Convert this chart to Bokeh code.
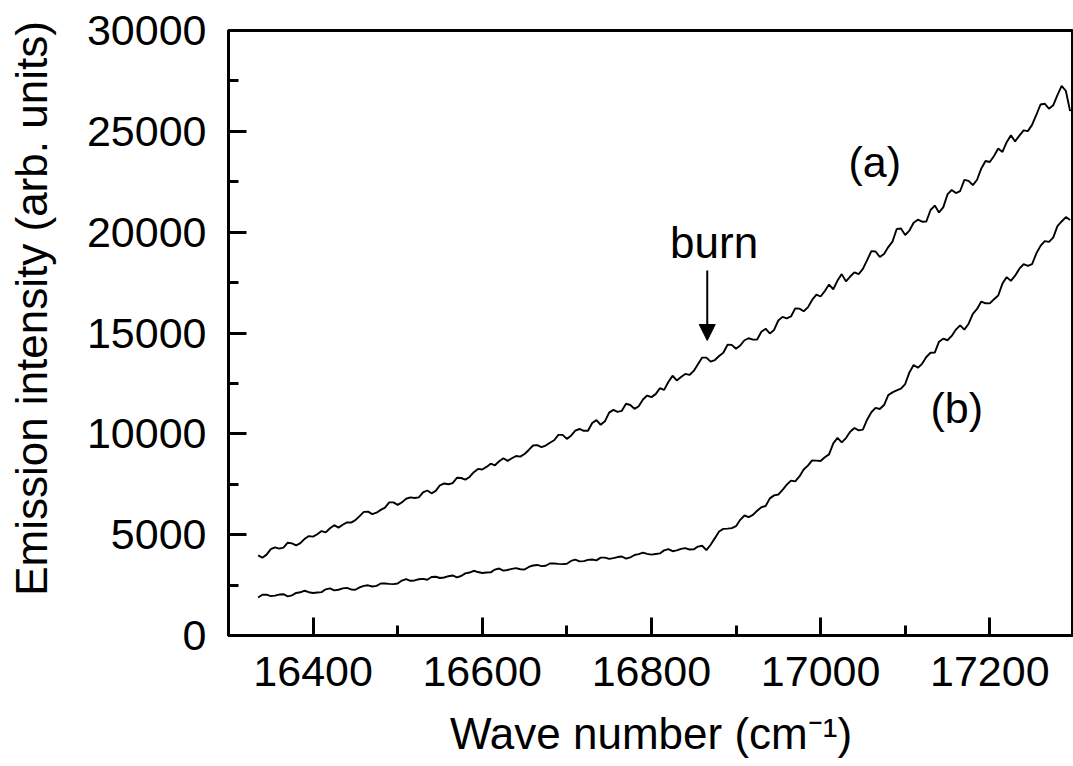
from bokeh.plotting import figure
from bokeh.models import Range1d, FixedTicker, Label, Arrow, NormalHead, ColumnDataSource
from bokeh.embed import file_html
from bokeh.resources import INLINE

# ---- data ----
wavenumber = [
    16335, 16340, 16345, 16350, 16355, 16360, 16365, 16370, 16375, 16380,
    16385, 16390, 16395, 16400, 16405, 16410, 16415, 16420, 16425, 16430,
    16435, 16440, 16445, 16450, 16455, 16460, 16465, 16470, 16475, 16480,
    16485, 16490, 16495, 16500, 16505, 16510, 16515, 16520, 16525, 16530,
    16535, 16540, 16545, 16550, 16555, 16560, 16565, 16570, 16575, 16580,
    16585, 16590, 16595, 16600, 16605, 16610, 16615, 16620, 16625, 16630,
    16635, 16640, 16645, 16650, 16655, 16660, 16665, 16670, 16675, 16680,
    16685, 16690, 16695, 16700, 16705, 16710, 16715, 16720, 16725, 16730,
    16735, 16740, 16745, 16750, 16755, 16760, 16765, 16770, 16775, 16780,
    16785, 16790, 16795, 16800, 16805, 16810, 16815, 16820, 16825, 16830,
    16835, 16840, 16845, 16850, 16855, 16860, 16865, 16870, 16875, 16880,
    16885, 16890, 16895, 16900, 16905, 16910, 16915, 16920, 16925, 16930,
    16935, 16940, 16945, 16950, 16955, 16960, 16965, 16970, 16975, 16980,
    16985, 16990, 16995, 17000, 17005, 17010, 17015, 17020, 17025, 17030,
    17035, 17040, 17045, 17050, 17055, 17060, 17065, 17070, 17075, 17080,
    17085, 17090, 17095, 17100, 17105, 17110, 17115, 17120, 17125, 17130,
    17135, 17140, 17145, 17150, 17155, 17160, 17165, 17170, 17175, 17180,
    17185, 17190, 17195, 17200, 17205, 17210, 17215, 17220, 17225, 17230,
    17235, 17240, 17245, 17250, 17255, 17260, 17265, 17270, 17275, 17280,
    17285, 17290, 17295,
]

intensity_a = [
    3970, 3860, 4010, 4280, 4370, 4310, 4360, 4600, 4570, 4470,
    4580, 4790, 4930, 4900, 5020, 5180, 5110, 5320, 5470, 5350,
    5490, 5610, 5600, 5720, 5920, 6130, 6140, 6020, 6090, 6230,
    6340, 6600, 6600, 6480, 6600, 6780, 6850, 6820, 6850, 7100,
    7190, 7050, 7170, 7450, 7540, 7500, 7560, 7820, 7810, 7730,
    7860, 8100, 8260, 8230, 8360, 8520, 8440, 8640, 8790, 8660,
    8790, 8900, 8870, 9000, 9200, 9420, 9440, 9340, 9420, 9560,
    9680, 9950, 9950, 9750, 9910, 10160, 10240, 10150, 10150, 10540,
    10680, 10450, 10620, 11050, 11190, 11090, 11140, 11490, 11430, 11240,
    11370, 11700, 11900, 11820, 11970, 12260, 12180, 12570, 12880, 12650,
    12820, 12970, 12920, 13120, 13450, 13780, 13780, 13580, 13660, 13860,
    14020, 14420, 14410, 14220, 14380, 14640, 14740, 14670, 14680, 15060,
    15210, 14980, 15150, 15620, 15800, 15730, 15820, 16220, 16210, 16080,
    16270, 16640, 16900, 16810, 17080, 17400, 17170, 17600, 17920, 17560,
    17800, 18010, 17920, 18180, 18610, 19060, 19040, 18770, 18920, 19260,
    19530, 20160, 20180, 19860, 20080, 20470, 20620, 20520, 20530, 21100,
    21320, 20980, 21230, 21870, 22090, 21940, 22040, 22590, 22540, 22330,
    22600, 23160, 23530, 23480, 23780, 24150, 23980, 24460, 24810, 24500,
    24790, 25050, 25010, 25320, 25810, 26330, 26370, 26120, 26290, 26800,
    27250, 27000, 26000,
]

intensity_b = [
    1885, 2020, 2023, 1950, 1976, 2030, 2048, 1940, 1990, 2110,
    2142, 2220, 2147, 2110, 2131, 2150, 2290, 2340, 2239, 2270,
    2335, 2360, 2284, 2270, 2390, 2460, 2489, 2430, 2458, 2580,
    2581, 2560, 2547, 2580, 2726, 2800, 2713, 2730, 2788, 2810,
    2765, 2900, 2913, 2850, 2876, 2940, 2978, 2880, 2950, 3080,
    3122, 3210, 3147, 3100, 3121, 3130, 3270, 3320, 3219, 3250,
    3305, 3340, 3284, 3270, 3400, 3470, 3499, 3440, 3458, 3570,
    3571, 3550, 3537, 3560, 3696, 3760, 3673, 3690, 3748, 3770,
    3725, 3860, 3863, 3800, 3836, 3890, 3918, 3810, 3870, 3990,
    4032, 4110, 4047, 4010, 4041, 4070, 4220, 4280, 4179, 4220,
    4295, 4330, 4264, 4270, 4410, 4450, 4230, 4500, 4828, 5160,
    5286, 5300, 5322, 5420, 5736, 5950, 5868, 5980, 6188, 6360,
    6420, 6800, 6948, 6990, 7216, 7480, 7682, 7640, 7890, 8230,
    8422, 8680, 8672, 8650, 8836, 8980, 9530, 9800, 9574, 9790,
    10100, 10290, 10174, 10210, 10700, 11070, 11284, 11230, 11428, 11920,
    12056, 12150, 12242, 12470, 13046, 13410, 13278, 13470, 13808, 14020,
    14030, 14570, 14718, 14640, 14856, 15170, 15378, 15170, 15460, 15950,
    16192, 16560, 16472, 16470, 16676, 16860, 17450, 17770, 17584, 17840,
    18190, 18410, 18324, 18410, 18940, 19320, 19554, 19520, 19728, 20300,
    20530, 20750, 20600,
]

x_ticks = [16400, 16600, 16800, 17000, 17200]
x_minor = [16500, 16700, 16900, 17100]
x_tick_labels = ["16400", "16600", "16800", "17000", "17200"]
y_ticks = [0, 5000, 10000, 15000, 20000, 25000, 30000]
y_minor = [2500, 7500, 12500, 17500, 22500, 27500]
y_tick_labels = ["0", "5000", "10000", "15000", "20000", "25000", "30000"]

FONT = "Liberation Sans"

p = figure(
    width=1073, height=766,
    x_range=Range1d(16300, 17299), y_range=Range1d(0, 30000),
    output_backend="svg", toolbar_location=None,
    min_border_left=228, min_border_right=0, min_border_top=30, min_border_bottom=131,
    background_fill_color="white", border_fill_color="white",
)
p.xgrid.visible = False
p.ygrid.visible = False
p.outline_line_color = "black"
p.outline_line_width = 3
p.outline_line_alpha = 1.0

p.xaxis.ticker = FixedTicker(ticks=x_ticks, minor_ticks=x_minor)
p.yaxis.ticker = FixedTicker(ticks=y_ticks, minor_ticks=y_minor)
p.xaxis.major_label_overrides = {t: s for t, s in zip(x_ticks, x_tick_labels)}
p.yaxis.major_label_overrides = {t: s for t, s in zip(y_ticks, y_tick_labels)}

for ax in (p.xaxis[0], p.yaxis[0]):
    ax.axis_line_color = "black"
    ax.axis_line_width = 3
    ax.major_tick_line_color = "black"
    ax.major_tick_line_width = 3
    ax.minor_tick_line_color = "black"
    ax.minor_tick_line_width = 3
    ax.major_tick_in = 18
    ax.major_tick_out = 0
    ax.minor_tick_in = 10
    ax.minor_tick_out = 0
    ax.major_label_text_font = FONT
    ax.major_label_text_font_size = "43px"
    ax.major_label_text_color = "black"
    ax.axis_label_text_font = FONT
    ax.axis_label_text_font_style = "normal"
    ax.axis_label_text_color = "black"

p.xaxis.major_label_standoff = 21
p.yaxis.major_label_standoff = 22

p.xaxis.axis_label = "Wave number (cm\u207b\u00b9)"
p.xaxis.axis_label_text_font_size = "44px"
p.xaxis.axis_label_standoff = 20
# leading no-break spaces shift the centred title upwards, as in the reference
p.yaxis.axis_label = "\u00a0\u00a0\u00a0\u00a0Emission intensity (arb. units)"
p.yaxis.axis_label_text_font_size = "44px"
p.yaxis.axis_label_standoff = 28

src = ColumnDataSource(dict(x=wavenumber, a=intensity_a, b=intensity_b))
p.line("x", "a", source=src, line_color="black", line_width=1.9)
p.line("x", "b", source=src, line_color="black", line_width=1.9)

def lab(x, y, text, size):
    p.add_layout(Label(x=x, y=y, text=text, text_font=FONT,
                       text_font_size=size, text_color="black",
                       text_align="left", text_baseline="alphabetic"))

# curve labels and burn annotation
lab(17033, 23500, "(a)", "43px")
lab(17130, 11300, "(b)", "43px")
lab(16822, 19490, "burn", "44px")
p.add_layout(Arrow(x_start=16866, y_start=18099, x_end=16866, y_end=14628,
                   line_color="black", line_width=2,
                   end=NormalHead(size=16, fill_color="black", line_color="black")))

open("out.html", "w").write(file_html(p, INLINE))
